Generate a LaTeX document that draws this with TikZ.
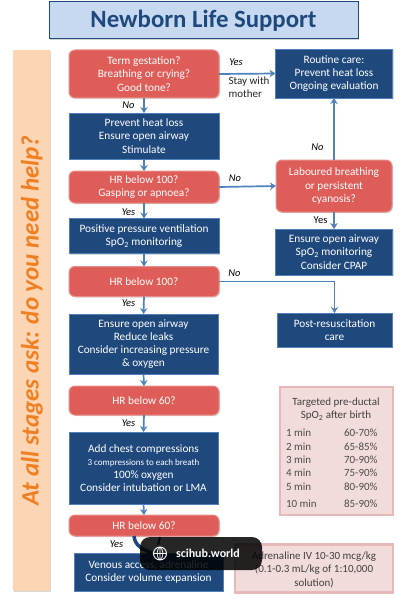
\documentclass[tikz,border=0pt]{standalone}
\usepackage{fontspec}
\setmainfont{Carlito}
\usetikzlibrary{arrows.meta,shadows,positioning}
\definecolor{navy}{HTML}{1F497D}
\definecolor{redb}{HTML}{DE5D58}
\definecolor{arrowc}{HTML}{4F81BD}
\definecolor{pinkb}{HTML}{E6B8B7}
\definecolor{pinkf}{HTML}{F2DCDB}
\definecolor{orangef}{HTML}{FCD5B5}
\definecolor{oranget}{HTML}{F07F22}
\definecolor{titlef}{HTML}{C6D9F1}
\tikzset{
 every node/.style={inner sep=0pt,outer sep=0pt},
 box/.style={anchor=north west,align=center,text=white,font=\fontsize{11.3}{13.2}\selectfont,
   drop shadow={opacity=.3,shadow xshift=1pt,shadow yshift=-1pt}},
 bluebox/.style={box,fill=navy,draw=arrowc,line width=.5pt},
 redbox/.style={box,fill=redb,draw=redb!70!white,line width=1pt,rounded corners=6pt},
 pinkbox/.style={anchor=north west,fill=pinkf,draw=pinkb,line width=2.5pt,
   drop shadow={opacity=.25,shadow xshift=1pt,shadow yshift=-1pt}},
 lab/.style={font=\fontsize{10.5}{12}\selectfont\itshape,text=black},
 plainlab/.style={font=\fontsize{11}{13}\selectfont,text=black!85,align=left},
 tabtxt/.style={font=\fontsize{11}{13}\selectfont,text=black!70,anchor=west},
 conn/.style={draw=arrowc,line width=1.7pt,-{Stealth[length=6pt,width=7.5pt]}},
}
\newcommand{\sized}[3]{\node[#1,minimum width=#2,minimum height=#3]}
\begin{document}
\begin{tikzpicture}[x=1pt,y=-1pt]
\useasboundingbox (0,0) rectangle (410,599);
\fill[white] (0,0) rectangle (410,599);
\node[anchor=north west,fill=titlef,draw=navy,line width=1pt,minimum width=309pt,minimum height=37pt,
  drop shadow={opacity=.35,shadow xshift=1pt,shadow yshift=-1pt},
  font=\fontsize{24.8}{28}\selectfont\bfseries,text=navy] (title) at (49,2) {Newborn Life Support};
\node[anchor=north west,fill=orangef,minimum width=37pt,minimum height=541pt,
  drop shadow={opacity=.3,shadow xshift=1pt,shadow yshift=-1pt}] (side) at (13,50) {};
\node[rotate=90,font=\fontsize{25}{28}\selectfont\bfseries\itshape,text=oranget] (sidetxt) at (32,320.5) {At all stages ask: do you need help?};

\sized{redbox}{150pt}{48pt} (n1) at (69,50) {Term gestation?\\Breathing or crying?\\Good tone?};
\sized{bluebox}{150pt}{46pt} (n2) at (69,113) {Prevent heat loss\\Ensure open airway\\Stimulate};
\sized{redbox}{150pt}{32pt} (n3) at (69,171) {HR below 100?\\Gasping or apnoea?};
\sized{bluebox}{150pt}{35pt} (n4) at (69,218.5) {Positive pressure ventilation\\SpO\textsubscript{2} monitoring};
\sized{redbox}{150pt}{30pt} (n5) at (69,266.5) {HR below 100?};
\sized{bluebox}{149pt}{60pt} (n6) at (69,314) {Ensure open airway\\Reduce leaks\\Consider increasing pressure\\\& oxygen};
\sized{redbox}{150pt}{29pt} (n7) at (69,386) {HR below 60?};
\sized{bluebox}{149pt}{72pt} (n8) at (69,432) {Add chest compressions\\{\fontsize{9}{12}\selectfont 3 compressions to each breath}\\100\% oxygen\\Consider intubation or LMA};
\sized{redbox}{150pt}{21pt} (n9) at (69,515) {HR below 60?};
\sized{bluebox}{149pt}{38pt} (n10) at (74,553) {Venous access, adrenaline\\Consider volume expansion};
\sized{bluebox}{117pt}{49pt} (r1) at (275.5,49) {Routine care:\\Prevent heat loss\\Ongoing evaluation};
\sized{redbox}{116pt}{52pt} (r2) at (276,160) {Laboured breathing\\or persistent\\cyanosis?};
\sized{bluebox}{117pt}{46pt} (r3) at (275.5,229) {Ensure open airway\\SpO\textsubscript{2} monitoring\\Consider CPAP};
\sized{bluebox}{115pt}{34pt} (r4) at (277,313) {Post-resuscitation\\care};

\sized{pinkbox}{113pt}{128pt} (tab) at (280,387) {};
\node[font=\fontsize{11}{13.5}\selectfont,text=black!75,align=center] (tabhead) at (336,409) {Targeted pre-ductal\\SpO\textsubscript{2} after birth};
\foreach \nm/\a/\b/\y in {ta/1 min/60-70\%/432.5,tb/2 min/65-85\%/446.5,tc/3 min/70-90\%/459.5,td/4 min/75-90\%/472.5,te/5 min/80-90\%/486.5,tf/10 min/85-90\%/504}{
  \node[tabtxt] (\nm a) at (286,\y) {\a};
  \node[tabtxt] (\nm b) at (344,\y) {\b};
}
\sized{pinkbox}{158pt}{48pt} (adr) at (235,544.5) {};
\node[align=center,font=\fontsize{11}{13.5}\selectfont,text=black!75] (adrt) at (314,569.5) {Adrenaline IV 10-30 mcg/kg\\(0.1-0.3 mL/kg of 1:10,000\\solution)};

\draw[conn] (n1.south) -- (n2.north);
\draw[conn] (n2.south) -- (n3.north);
\draw[conn] (n3.south) -- (n4.north);
\draw[conn] (n4.south) -- (n5.north);
\draw[conn] (n5.south) -- (n6.north);
\draw[conn] (n6.south) -- (n7.north);
\draw[conn] (n7.south) -- (n8.north);
\draw[conn] (n8.south) -- (n9.north);
\draw[conn] (n1.east) -- (r1.west);
\draw[conn] (n3.east) -- (r2.west);
\draw[conn] (n5.east) -| (r4.north);
\draw[conn] (r2.north) -- (r1.south);
\draw[conn] (r2.south) -- (r3.north);
\coordinate (n9a) at (134,536);
\coordinate (n10a) at (152,553);
\coordinate (n9b) at (160,537);
\draw[navy,line width=3.5pt] (n9a) to[out=-85,in=160] (n10a);
\draw[navy,line width=2pt] (n9b) -- ++(-2,8);

\node[lab] (l1) at (128.5,105) {No};
\node[lab] (l2) at (128.5,212.5) {Yes};
\node[lab] (l3) at (128.5,303) {Yes};
\node[lab] (l4) at (128.5,423) {Yes};
\node[lab] (l5) at (116.5,544) {Yes};
\node[lab] (l6) at (236,62.5) {Yes};
\node[lab] (l7) at (235,178.5) {No};
\node[lab] (l8) at (234.5,273.5) {No};
\node[lab] (l9) at (317.5,147.5) {No};
\node[font=\fontsize{10.5}{12}\selectfont,text=black] (l10) at (320.5,220.5) {Yes};
\node[plainlab,anchor=north west] (l11) at (228.5,77) {Stay with\\mother};

\node[fill=black,fill opacity=.85,rounded corners=10pt,minimum width=122pt,minimum height=33pt] (pill) at (201,553.5) {};
\node[text=white,font=\fontsize{12}{13}\selectfont\bfseries,anchor=west] (pilltxt) at (176,553.5) {scihub.world};
\draw[white,line width=.9pt] (160,553.5) circle (6.5pt) (153.5,553.5) -- (166.5,553.5) (160,547) -- (160,560);
\draw[white,line width=.7pt] (160,547) .. controls (156,550) and (156,557) .. (160,560) (160,547) .. controls (164,550) and (164,557) .. (160,560);
\end{tikzpicture}
\end{document}
